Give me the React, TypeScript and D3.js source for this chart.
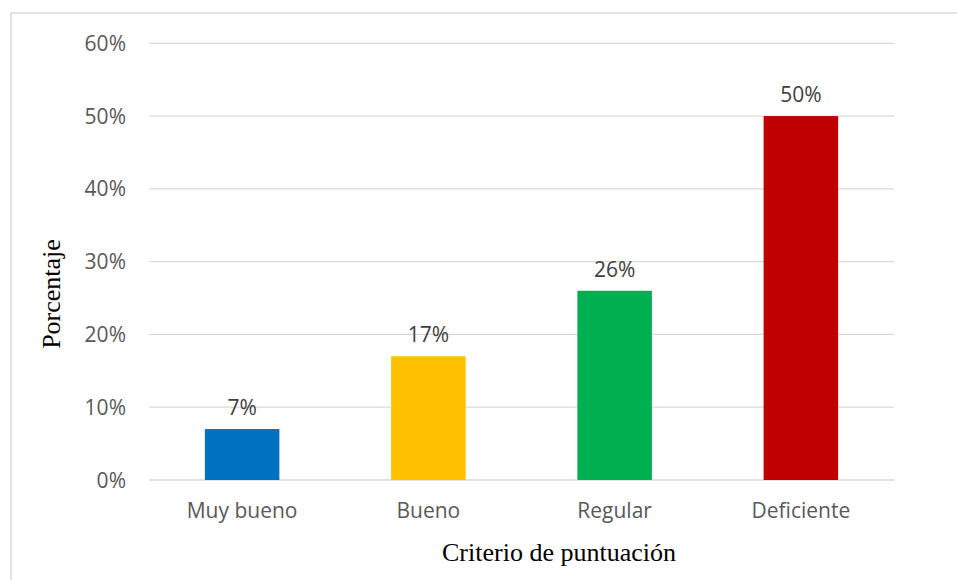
import React from "react";
import * as d3 from "d3";

const categories = ["Muy bueno", "Bueno", "Regular", "Deficiente"];
const values = [7, 17, 26, 50];
const colors = ["#0070C0", "#FFC000", "#00B050", "#C00000"];
const yTicks = [0, 10, 20, 30, 40, 50, 60];
const yTitle = "Porcentaje";
const xTitle = "Criterio de puntuación";

const W = 957;
const H = 580;
const plot = { left: 149, right: 894, top: 43.3, bottom: 480 };

export default function App() {
  const x = d3
    .scaleBand<string>()
    .domain(categories)
    .range([plot.left, plot.right])
    .paddingInner(0.6)
    .paddingOuter(0.3);
  const y = d3.scaleLinear().domain([0, 60]).range([plot.bottom, plot.top]);
  const sans = "'Open Sans', sans-serif";
  const serif = "'Liberation Serif', 'Times New Roman', serif";
  const fs = 21;
  return (
    <svg
      width={W}
      height={H}
      style={{ position: "absolute", left: 0, top: 0, display: "block" }}
    >
      <rect x={0} y={0} width={W} height={H} fill="#fff" />
      <rect x={11} y={13} width={W + 20} height={H + 20} fill="none" stroke="#d9d9d9" strokeWidth={1.5} />
      {yTicks.map((t) => (
        <g key={t}>
          <line x1={plot.left} x2={plot.right} y1={y(t)} y2={y(t)} stroke="#d9d9d9" strokeWidth={1.3} />
          <text x={126} y={y(t) + 7.5} textAnchor="end" fontFamily={sans} fontSize={fs} fill="#595959">
            {t}%
          </text>
        </g>
      ))}
      {categories.map((c, i) => (
        <g key={c}>
          <rect
            x={x(c)}
            y={y(values[i])}
            width={x.bandwidth()}
            height={y(0) - y(values[i])}
            fill={colors[i]}
          />
          <text
            x={(x(c) as number) + x.bandwidth() / 2}
            y={y(values[i]) - 14}
            textAnchor="middle"
            fontFamily={sans}
            fontSize={fs}
            fill="#404040"
          >
            {values[i]}%
          </text>
          <text
            x={(x(c) as number) + x.bandwidth() / 2}
            y={518}
            textAnchor="middle"
            fontFamily={sans}
            fontSize={fs}
            fill="#595959"
          >
            {c}
          </text>
        </g>
      ))}
      <text x={559} y={560.5} textAnchor="middle" fontFamily={serif} fontSize={26} fill="#000">
        {xTitle}
      </text>
      <text
        transform={`translate(60, 294) rotate(-90)`}
        textAnchor="middle"
        fontFamily={serif}
        fontSize={26}
        fill="#000"
      >
        {yTitle}
      </text>
    </svg>
  );
}
